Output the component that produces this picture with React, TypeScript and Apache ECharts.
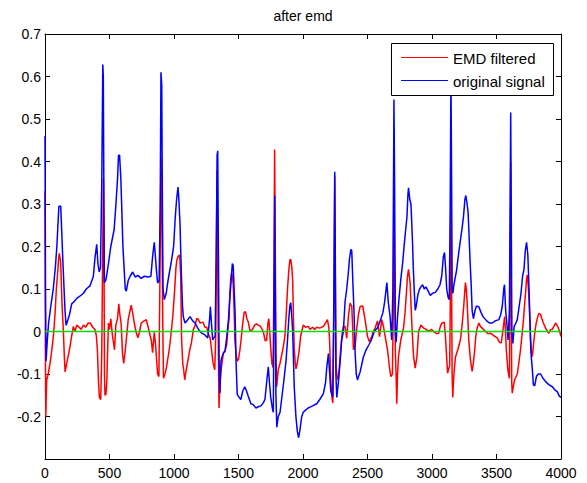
import React, { useEffect, useRef } from "react";
import * as echarts from "echarts";

const TITLE = "after emd";
const LEGEND_LABELS = ["EMD filtered", "original signal"];
const X_TICKS = { min: 0, max: 4000, step: 500 };
const Y_TICKS = { min: -0.3, max: 0.7, step: 0.1 };

// original signal (blue): [sample, amplitude]
const originalSignal: [number, number][] = [
  [0, 0.46], [4, 0.1], [8, -0.07], [18, -0.02], [28, 0.02], [45, 0.06], [64, 0.1], [80, 0.15], [92, 0.2], [100, 0.25],
  [108, 0.295], [122, 0.295], [129, 0.24], [138, 0.17], [147, 0.105], [155, 0.05], [163, 0.015], [175, 0.025], [190, 0.04],
  [207, 0.065], [225, 0.07], [246, 0.078], [270, 0.083], [298, 0.09], [320, 0.1], [350, 0.108], [375, 0.13], [388, 0.175],
  [401, 0.205], [410, 0.16], [420, 0.14], [430, 0.15], [440, 0.35], [448, 0.628], [452, 0.6], [456, 0.35], [460, 0.115],
  [470, 0.12], [477, 0.13], [492, 0.16], [510, 0.2], [536, 0.24], [550, 0.3], [562, 0.358], [570, 0.415], [578, 0.415],
  [588, 0.36], [596, 0.28], [604, 0.2], [614, 0.145], [622, 0.1], [630, 0.095], [645, 0.12], [660, 0.13], [680, 0.14],
  [700, 0.128], [720, 0.132], [745, 0.125], [770, 0.13], [800, 0.128], [821, 0.13], [834, 0.176], [847, 0.21], [855, 0.18],
  [862, 0.15], [873, 0.114], [885, 0.12], [893, 0.3], [899, 0.61], [905, 0.58], [910, 0.3], [915, 0.1], [925, 0.075],
  [940, 0.09], [951, 0.115], [965, 0.14], [977, 0.16], [997, 0.2], [1010, 0.27], [1020, 0.31], [1031, 0.34], [1038, 0.31],
  [1047, 0.25], [1053, 0.18], [1059, 0.12], [1066, 0.06], [1072, 0.035], [1085, 0.02], [1100, 0.025], [1124, 0.035],
  [1145, 0.025], [1163, 0.02], [1190, 0.005], [1215, -0.004], [1240, -0.008], [1262, -0.015], [1276, 0.03], [1282, 0.058],
  [1290, 0.02], [1300, -0.02], [1319, -0.01], [1328, 0.2], [1334, 0.415], [1339, 0.425], [1345, 0.15], [1350, -0.075],
  [1356, -0.145], [1364, -0.07], [1372, -0.06], [1385, -0.05], [1396, -0.045], [1410, -0.01], [1422, 0.027], [1433, 0.08],
  [1443, 0.12], [1452, 0.16], [1459, 0.155], [1466, 0.1], [1474, 0.04], [1481, -0.07], [1490, -0.148], [1505, -0.155],
  [1518, -0.16], [1533, -0.14], [1549, -0.13], [1562, -0.14], [1575, -0.152], [1596, -0.17], [1614, -0.172], [1635, -0.18],
  [1653, -0.177], [1674, -0.175], [1692, -0.168], [1705, -0.16], [1718, -0.12], [1731, -0.083], [1740, -0.12], [1749, -0.153],
  [1762, -0.18], [1770, -0.19], [1776, 0.1], [1781, 0.32], [1785, 0.1], [1790, -0.15], [1797, -0.225], [1808, -0.2],
  [1822, -0.19], [1842, -0.14], [1850, -0.12], [1868, -0.07], [1880, -0.02], [1890, 0.03], [1898, 0.06], [1905, 0.068],
  [1912, 0.04], [1920, 0.0], [1932, -0.13], [1945, -0.2], [1956, -0.235], [1966, -0.25], [1976, -0.232], [1990, -0.2],
  [2002, -0.19], [2020, -0.185], [2040, -0.18], [2054, -0.178], [2075, -0.175], [2106, -0.17], [2130, -0.16], [2158, -0.146],
  [2175, -0.12], [2184, -0.085], [2197, -0.052], [2207, -0.1], [2215, -0.14], [2231, -0.155], [2240, 0.1], [2246, 0.376],
  [2250, 0.2], [2255, -0.1], [2262, -0.155], [2274, -0.12], [2288, -0.07], [2300, -0.02], [2313, 0.0], [2326, 0.07],
  [2339, 0.1], [2352, 0.14], [2360, 0.17], [2371, 0.193], [2378, 0.19], [2386, 0.12], [2395, 0.05], [2404, -0.05],
  [2413, -0.1], [2422, -0.114], [2443, -0.095], [2468, -0.06], [2489, -0.043], [2513, -0.03], [2530, -0.02], [2552, 0.0],
  [2580, 0.01], [2604, 0.03], [2620, 0.045], [2633, 0.07], [2650, 0.115], [2661, 0.07], [2675, 0.035], [2688, -0.02],
  [2697, 0.1], [2705, 0.546], [2710, 0.35], [2716, 0.0], [2722, -0.025], [2733, 0.035], [2745, 0.08], [2759, 0.125],
  [2772, 0.16], [2785, 0.205], [2796, 0.24], [2806, 0.27], [2813, 0.32], [2818, 0.338], [2828, 0.31], [2837, 0.3],
  [2849, 0.21], [2855, 0.15], [2862, 0.098], [2870, 0.05], [2878, 0.06], [2890, 0.085], [2901, 0.098], [2914, 0.105],
  [2927, 0.11], [2940, 0.1], [2953, 0.105], [2970, 0.095], [2987, 0.085], [3005, 0.09], [3025, 0.092], [3045, 0.1],
  [3062, 0.11], [3075, 0.13], [3088, 0.176], [3097, 0.186], [3105, 0.15], [3114, 0.1], [3125, 0.08], [3134, 0.075],
  [3141, 0.3], [3147, 0.6], [3152, 0.35], [3156, 0.1], [3162, 0.09], [3170, 0.11], [3191, 0.145], [3205, 0.18], [3218, 0.21],
  [3232, 0.24], [3244, 0.27], [3255, 0.31], [3262, 0.32], [3272, 0.3], [3280, 0.28], [3288, 0.22], [3296, 0.16],
  [3303, 0.115], [3311, 0.05], [3321, 0.03], [3334, 0.05], [3345, 0.06], [3363, 0.058], [3380, 0.045], [3395, 0.035],
  [3424, 0.025], [3445, 0.02], [3467, 0.02], [3490, 0.025], [3519, 0.028], [3533, 0.04], [3545, 0.06], [3556, 0.1],
  [3562, 0.11], [3571, 0.05], [3580, 0.02], [3590, -0.02], [3600, 0.05], [3606, 0.3], [3610, 0.515], [3614, 0.3],
  [3619, 0.0], [3627, -0.028], [3637, 0.012], [3650, 0.02], [3661, 0.028], [3676, 0.06], [3690, 0.09], [3702, 0.13],
  [3713, 0.146], [3723, 0.19], [3733, 0.21], [3743, 0.18], [3750, 0.12], [3756, 0.06], [3767, -0.05], [3778, -0.09],
  [3786, -0.125], [3796, -0.128], [3810, -0.105], [3825, -0.1], [3842, -0.1], [3860, -0.11], [3881, -0.118], [3905, -0.125],
  [3933, -0.13], [3955, -0.138], [3972, -0.142], [3987, -0.152], [4000, -0.155],
];

// EMD filtered signal (red): [sample, amplitude]
const emdFiltered: [number, number][] = [
  [0, 0.33], [3, -0.05], [6, -0.2], [13, -0.114], [25, -0.1], [39, -0.075], [50, -0.05], [59, -0.028], [68, 0.0], [78, 0.043],
  [88, 0.1], [96, 0.13], [105, 0.17], [111, 0.184], [118, 0.17], [122, 0.16], [128, 0.1], [134, 0.05], [142, 0.004],
  [150, -0.06], [156, -0.095], [162, -0.085], [170, -0.072], [182, -0.055], [194, -0.035], [207, -0.01], [220, 0.012],
  [233, 0.0], [246, 0.015], [265, 0.01], [280, 0.005], [298, 0.015], [315, 0.01], [335, 0.02], [350, 0.02], [370, 0.01],
  [388, 0.004], [398, -0.01], [406, -0.043], [415, -0.12], [422, -0.155], [432, -0.16], [440, -0.05], [446, 0.15],
  [453, 0.36], [457, 0.2], [461, -0.1], [465, -0.15], [472, -0.148], [479, -0.12], [485, -0.05], [492, 0.02], [500, 0.005],
  [510, 0.03], [523, -0.01], [539, -0.043], [549, 0.015], [562, 0.03], [572, 0.065], [580, 0.04], [590, 0.02], [601, -0.052],
  [610, -0.075], [620, -0.05], [630, -0.02], [645, 0.028], [660, 0.05], [668, 0.062], [679, 0.045], [692, 0.02], [705, 0.0],
  [720, -0.015], [733, 0.0], [746, 0.02], [769, 0.025], [785, 0.028], [800, 0.01], [815, -0.01], [824, -0.02], [834, -0.05],
  [847, -0.002], [857, -0.03], [866, -0.07], [873, -0.1], [883, -0.106], [890, 0.1], [899, 0.41], [905, 0.3], [912, 0.05],
  [918, -0.11], [930, -0.1], [941, -0.085], [954, -0.06], [964, -0.04], [979, 0.0], [992, 0.04], [1005, 0.098], [1015, 0.15],
  [1023, 0.17], [1035, 0.178], [1044, 0.18], [1052, 0.13], [1059, -0.02], [1068, -0.075], [1075, -0.09], [1083, -0.114],
  [1095, -0.09], [1109, -0.067], [1124, -0.04], [1135, -0.027], [1150, 0.005], [1161, 0.012], [1176, 0.03], [1186, 0.03],
  [1202, 0.02], [1225, 0.022], [1240, 0.01], [1254, 0.01], [1265, -0.005], [1280, -0.015], [1290, -0.04], [1303, -0.075],
  [1316, -0.09], [1324, 0.0], [1330, 0.25], [1334, 0.38], [1338, 0.2], [1344, -0.05], [1349, -0.18], [1356, -0.12],
  [1368, -0.083], [1383, -0.05], [1394, -0.048], [1409, -0.03], [1420, 0.012], [1427, 0.03], [1433, 0.09], [1440, 0.125],
  [1446, 0.138], [1453, 0.13], [1459, 0.11], [1466, 0.05], [1472, -0.02], [1482, -0.055], [1490, -0.07], [1500, -0.065],
  [1510, -0.045], [1520, -0.02], [1531, 0.015], [1544, 0.045], [1554, 0.047], [1565, 0.03], [1575, 0.023], [1590, 0.0],
  [1609, 0.005], [1625, 0.015], [1640, 0.018], [1653, 0.015], [1670, 0.012], [1692, 0.0], [1707, -0.022], [1718, -0.02],
  [1728, 0.02], [1735, 0.03], [1742, 0.0], [1749, -0.035], [1759, -0.075], [1768, -0.085], [1774, 0.1], [1780, 0.428],
  [1785, 0.2], [1790, -0.05], [1796, -0.13], [1808, -0.09], [1822, -0.075], [1835, -0.055], [1848, -0.035], [1860, -0.01],
  [1869, 0.035], [1880, 0.1], [1889, 0.14], [1898, 0.168], [1905, 0.17], [1914, 0.15], [1920, 0.12], [1926, 0.03],
  [1932, -0.04], [1940, -0.075], [1946, -0.088], [1958, -0.07], [1970, -0.045], [1982, -0.01], [1990, 0.0], [2002, 0.015],
  [2020, 0.01], [2040, 0.012], [2054, 0.005], [2075, 0.01], [2090, 0.005], [2106, 0.01], [2130, 0.008], [2158, 0.012],
  [2175, 0.02], [2189, 0.028], [2200, 0.01], [2206, -0.02], [2215, -0.114], [2226, -0.16], [2231, -0.168], [2238, 0.0],
  [2246, 0.365], [2250, 0.15], [2256, -0.083], [2266, -0.11], [2274, -0.114], [2292, -0.043], [2305, 0.0], [2313, 0.012],
  [2326, 0.012], [2339, -0.016], [2352, 0.035], [2365, 0.067], [2378, 0.06], [2386, 0.0], [2391, -0.043], [2404, -0.035],
  [2417, 0.008], [2430, 0.04], [2443, 0.059], [2463, 0.06], [2481, 0.028], [2500, -0.012], [2515, -0.024], [2533, -0.012],
  [2545, 0.0], [2559, 0.008], [2577, 0.025], [2593, -0.012], [2611, 0.028], [2625, 0.01], [2637, -0.012], [2655, -0.043],
  [2670, -0.083], [2681, -0.106], [2693, -0.1], [2700, 0.05], [2705, 0.33], [2710, 0.15], [2716, -0.05], [2722, -0.106],
  [2727, -0.17], [2733, -0.1], [2740, -0.06], [2758, -0.02], [2779, 0.008], [2790, 0.04], [2800, 0.083], [2810, 0.13],
  [2818, 0.146], [2831, 0.113], [2838, 0.06], [2844, 0.015], [2857, -0.059], [2870, -0.086], [2883, -0.06], [2896, 0.0],
  [2914, 0.015], [2935, 0.008], [2955, 0.005], [2974, 0.0], [2995, 0.005], [3013, 0.0], [3035, -0.005], [3051, -0.004],
  [3065, 0.012], [3077, 0.02], [3095, 0.022], [3104, -0.01], [3110, -0.043], [3121, -0.098], [3132, -0.085], [3137, -0.08],
  [3143, 0.1], [3148, 0.36], [3152, 0.1], [3156, -0.1], [3161, -0.155], [3170, -0.1], [3182, -0.06], [3200, -0.043],
  [3220, -0.02], [3235, 0.02], [3246, 0.06], [3259, 0.115], [3266, 0.1], [3272, 0.07], [3285, -0.02], [3298, -0.067],
  [3311, -0.094], [3320, -0.075], [3329, -0.05], [3340, -0.01], [3350, 0.008], [3363, 0.02], [3375, 0.012], [3389, 0.008],
  [3415, 0.0], [3435, -0.005], [3454, -0.004], [3480, -0.01], [3506, -0.015], [3522, -0.025], [3537, -0.027], [3552, 0.008],
  [3563, 0.035], [3570, 0.0], [3576, -0.043], [3588, -0.09], [3600, -0.11], [3606, 0.2], [3610, 0.4], [3614, 0.1],
  [3618, -0.12], [3622, -0.145], [3630, -0.13], [3640, -0.114], [3661, -0.1], [3675, -0.07], [3686, -0.043], [3697, -0.01],
  [3707, 0.02], [3717, 0.06], [3725, 0.09], [3732, 0.12], [3738, 0.133], [3745, 0.11], [3751, 0.083], [3758, 0.03],
  [3764, -0.02], [3772, -0.05], [3778, -0.059], [3790, -0.02], [3800, 0.005], [3808, 0.02], [3820, 0.035], [3829, 0.043],
  [3842, 0.04], [3852, 0.03], [3863, 0.02], [3881, 0.008], [3895, 0.0], [3906, -0.004], [3920, 0.005], [3932, 0.005],
  [3945, 0.012], [3958, 0.02], [3968, 0.015], [3977, 0.01], [3990, 0.0], [4000, -0.012],
];

// zero reference line (green)
const zeroLine: [number, number][] = [
  [0, 0],
  [4000, 0],
];

const FONT = "'Liberation Sans', Arial, Helvetica, sans-serif";

export default function App() {
  const ref = useRef<HTMLDivElement>(null);

  useEffect(() => {
    if (!ref.current) return;
    const chart = echarts.init(ref.current, undefined, { renderer: "svg" });

    const axisLine = { show: true, onZero: false, lineStyle: { color: "#000", width: 1 } };
    const tick = { show: true, inside: true, length: 5, lineStyle: { color: "#000", width: 1 } };
    const fmtY = (v: number) => (v < Y_TICKS.min + 0.05 ? "" : String(Number(v.toFixed(1))));
    const fmtX = (v: number) => String(v);

    const option: any = {
      animation: false,
      backgroundColor: "#fff",
      grid: { left: 45, right: 26, top: 34, bottom: 24, containLabel: false },
      xAxis: [
        {
          type: "value",
          position: "bottom",
          min: X_TICKS.min,
          max: X_TICKS.max,
          interval: X_TICKS.step,
          axisLine,
          axisTick: tick,
          splitLine: { show: false },
          axisLabel: { color: "#000", fontSize: 14, fontFamily: FONT, margin: 7, formatter: fmtX },
        },
        {
          type: "value",
          position: "top",
          min: X_TICKS.min,
          max: X_TICKS.max,
          interval: X_TICKS.step,
          axisLine,
          axisTick: tick,
          splitLine: { show: false },
          axisLabel: { show: false },
        },
      ],
      yAxis: [
        {
          type: "value",
          position: "left",
          min: Y_TICKS.min,
          max: Y_TICKS.max,
          interval: Y_TICKS.step,
          axisLine,
          axisTick: tick,
          splitLine: { show: false },
          axisLabel: { color: "#000", fontSize: 14, fontFamily: FONT, margin: 4, formatter: fmtY },
        },
        {
          type: "value",
          position: "right",
          min: Y_TICKS.min,
          max: Y_TICKS.max,
          interval: Y_TICKS.step,
          axisLine,
          axisTick: tick,
          splitLine: { show: false },
          axisLabel: { show: false },
        },
      ],
      series: [
        {
          name: LEGEND_LABELS[0],
          type: "line",
          data: emdFiltered,
          showSymbol: false,
          symbol: "none",
          lineStyle: { color: "#ff0000", width: 1.5 },
          itemStyle: { color: "#ff0000" },
          z: 2,
        },
        {
          name: LEGEND_LABELS[1],
          type: "line",
          data: originalSignal,
          showSymbol: false,
          symbol: "none",
          lineStyle: { color: "#0000ff", width: 1.5 },
          itemStyle: { color: "#0000ff" },
          z: 3,
        },
        {
          name: "zero",
          type: "line",
          data: zeroLine,
          showSymbol: false,
          symbol: "none",
          lineStyle: { color: "#00e000", width: 1.5 },
          z: 4,
        },
      ],
      graphic: [
        {
          type: "text",
          x: 303,
          y: 16,
          z: 100,
          style: { text: TITLE, fill: "#000", font: `14px ${FONT}`, textAlign: "center", textVerticalAlign: "middle" },
        },
        {
          type: "rect",
          z: 100,
          shape: { x: 391.5, y: 43.5, width: 162, height: 52 },
          style: { fill: "#fff", stroke: "#000", lineWidth: 1 },
        },
        {
          type: "line",
          z: 101,
          shape: { x1: 401, y1: 57.5, x2: 448, y2: 57.5 },
          style: { stroke: "#ff0000", lineWidth: 1 },
        },
        {
          type: "text",
          z: 101,
          x: 453,
          y: 58,
          style: { text: LEGEND_LABELS[0], fill: "#000", font: `15px ${FONT}`, textVerticalAlign: "middle" },
        },
        {
          type: "line",
          z: 101,
          shape: { x1: 401, y1: 80.5, x2: 448, y2: 80.5 },
          style: { stroke: "#0000ff", lineWidth: 1 },
        },
        {
          type: "text",
          z: 101,
          x: 453,
          y: 81,
          style: { text: LEGEND_LABELS[1], fill: "#000", font: `15px ${FONT}`, textVerticalAlign: "middle" },
        },
      ],
    };

    chart.setOption(option);
    return () => chart.dispose();
  }, []);

  return (
    <div
      ref={ref}
      style={{ position: "absolute", left: 0, top: 0, width: 587, height: 483, background: "#fff" }}
    />
  );
}
